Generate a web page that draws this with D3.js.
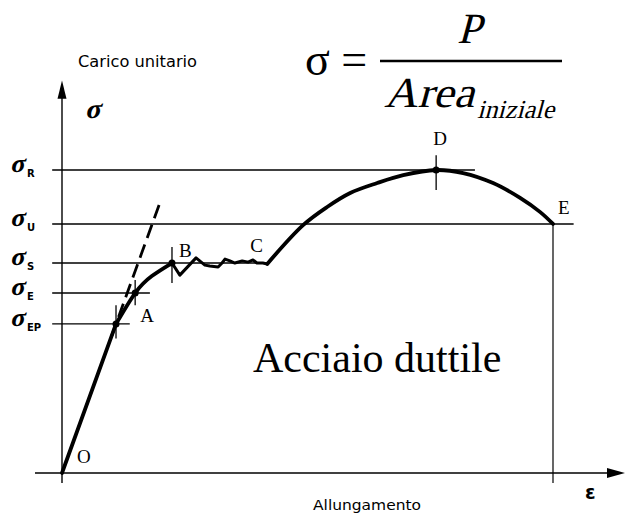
<!DOCTYPE html>
<html>
<head>
<meta charset="utf-8">
<script src="https://cdn.jsdelivr.net/npm/d3@7"></script>
<style>
  html, body { margin: 0; padding: 0; background: #fff; }
  svg { display: block; }
</style>
</head>
<body>
<svg id="chart" width="625" height="514"></svg>
<script>
// Stress-strain diagram of a ductile steel (units are relative: σR = 100, εE = 100)

// Characteristic stress levels
const levelNames  = ["R", "U", "S", "E", "EP"];
const levelStress = [100, 82.2, 69.3, 59.4, 49.2];
const levelStrainEnd = [84.1, 104.2, 41.8, 17.9, 13.8];

// Curve segments [strain, stress]
const elasticSeg   = [[0, 0], [11.0, 49.2]];
const hardeningSeg = [[11.0, 49.2], [14.9, 59.4], [18.3, 65.0], [22.4, 69.3]];
const yieldSeg = [
  [22.4, 69.3], [24.0, 65.3], [27.3, 71.0], [29.1, 68.6], [30.1, 68.3], [31.8, 68.0],
  [32.6, 69.3], [33.2, 70.6], [34.2, 70.0], [35.2, 69.3], [36.7, 70.0], [37.9, 69.6],
  [38.9, 70.3], [39.7, 69.3], [40.9, 69.3], [41.8, 69.0]
];
const strainHardSeg = [
  [41.8, 69.0], [49.1, 81.8], [54.0, 87.8], [58.7, 92.4], [64.2, 95.7],
  [69.5, 98.3], [76.2, 100], [81.7, 99.0], [87.8, 95.7], [93.3, 90.8], [97.4, 86.1],
  [100, 82.2]
];

// Elastic line prolongation (dashed)
const elasticSlope = 49.2 / 11.0;
const dashedStress = [45, 89.1];

// Named points: [strain, stress]
const pointNames  = ["O", "A", "B", "C", "D", "E"];
const pointStrain = [0, 14.9, 22.4, 41.8, 76.2, 100];
const pointStress = [0, 59.4, 69.3, 69.0, 100, 82.2];

// Marked points with a small vertical tick
const markStrain = [11.0, 14.9, 22.4, 76.2];
const markStress = [49.2, 59.4, 69.3, 100];
const markLow    = [44.4, 55.4, 62.7, 93.4];
const markHigh   = [55.4, 63.7, 74.6, 104.9];

const svg = d3.select("#chart");
const x = d3.scaleLinear().domain([0, 100]).range([62, 553]);
const y = d3.scaleLinear().domain([0, 100]).range([473, 170]);

const ink = "#000";
const serif = "Liberation Serif";
const line = d3.line().x(d => x(d[0])).y(d => y(d[1]));

// Slanted serif text (regular face sheared to an italic look)
function slanted(px, py, str, size, opts = {}) {
  const t = svg.append("text")
    .attr("transform", `translate(${px},${py}) skewX(${opts.skew ?? -15})`)
    .attr("font-family", serif).attr("font-size", size)
    .attr("font-weight", opts.bold ? "bold" : "normal")
    .text(str);
  if (opts.width) t.attr("textLength", opts.width).attr("lengthAdjust", "spacingAndGlyphs");
  return t;
}

// Horizontal reference lines for each stress level
svg.append("g").selectAll("line").data(levelStress).join("line")
  .attr("x1", x(-2)).attr("x2", (d, i) => x(levelStrainEnd[i]))
  .attr("y1", d => y(d)).attr("y2", d => y(d))
  .attr("stroke", ink).attr("stroke-width", 1.4);

// Level labels σ with subscript
levelStress.forEach((v, i) => {
  slanted(10, y(v) + 2, "σ", 26, { bold: true, skew: -12 });
  svg.append("text")
    .attr("x", 27).attr("y", y(v) + 7)
    .attr("font-family", "DejaVu Sans").attr("font-weight", "bold")
    .attr("font-size", 10).text(levelNames[i]);
});

// Axes
svg.append("line")
  .attr("x1", x(0)).attr("x2", x(0)).attr("y1", y(-3.3)).attr("y2", y(126))
  .attr("stroke", ink).attr("stroke-width", 1.4);
svg.append("path")
  .attr("d", `M${x(0)},${y(129.5)} L${x(0) - 4.5},${y(123.5)} L${x(0) + 4.5},${y(123.5)} Z`)
  .attr("fill", ink);
svg.append("line")
  .attr("x1", x(-5.5)).attr("x2", x(112)).attr("y1", y(0)).attr("y2", y(0))
  .attr("stroke", ink).attr("stroke-width", 1.6);
svg.append("path")
  .attr("d", `M${x(114.7)},${y(0)} L${x(111)},${y(0) - 5} L${x(111)},${y(0) + 5} Z`)
  .attr("fill", ink);

// Vertical line at rupture point E
svg.append("line")
  .attr("x1", x(100)).attr("x2", x(100)).attr("y1", y(82.2)).attr("y2", y(-3.3))
  .attr("stroke", ink).attr("stroke-width", 1.2);

// Dashed prolongation of the elastic line
svg.append("line")
  .attr("x1", x(dashedStress[0] / elasticSlope)).attr("y1", y(dashedStress[0]))
  .attr("x2", x(dashedStress[1] / elasticSlope)).attr("y2", y(dashedStress[1]))
  .attr("stroke", ink).attr("stroke-width", 2.8).attr("stroke-dasharray", "14,7");

// Stress-strain curve
const curve = svg.append("g").attr("fill", "none").attr("stroke", ink)
  .attr("stroke-width", 3.8).attr("stroke-linejoin", "round").attr("stroke-linecap", "round");
curve.append("path").attr("d", line.curve(d3.curveLinear)(elasticSeg));
curve.append("path").attr("d", line.curve(d3.curveNatural)(hardeningSeg));
curve.append("path").attr("d", line.curve(d3.curveLinear)(yieldSeg)).attr("stroke-width", 3);
curve.append("path").attr("d", line.curve(d3.curveCatmullRom.alpha(0.5))(strainHardSeg));

// Tick marks and dots at characteristic points
svg.append("g").selectAll("line").data(markStrain).join("line")
  .attr("x1", d => x(d)).attr("x2", d => x(d))
  .attr("y1", (d, i) => y(markLow[i])).attr("y2", (d, i) => y(markHigh[i]))
  .attr("stroke", ink).attr("stroke-width", 1.3);
svg.append("g").selectAll("circle").data(markStrain).join("circle")
  .attr("cx", d => x(d)).attr("cy", (d, i) => y(markStress[i])).attr("r", 3.5)
  .attr("fill", ink);

// Point letters
const letterDx = [15, 5, 7, -17, -3, 5];
const letterDy = [-10, 29, -6, -12, -25, -10];
svg.append("g").selectAll("text").data(pointNames).join("text")
  .attr("x", (d, i) => x(pointStrain[i]) + letterDx[i])
  .attr("y", (d, i) => y(pointStress[i]) + letterDy[i])
  .attr("font-family", serif).attr("font-size", 19).text(d => d);

// Axis titles
svg.append("text").attr("x", 78).attr("y", 67)
  .attr("font-family", "DejaVu Sans").attr("font-size", 16)
  .attr("textLength", 119).attr("lengthAdjust", "spacingAndGlyphs")
  .text("Carico unitario");
slanted(85, 118, "σ", 28, { bold: true, skew: -12 });
svg.append("text").attr("x", 313).attr("y", 510)
  .attr("font-family", "DejaVu Sans").attr("font-size", 14)
  .attr("textLength", 108).attr("lengthAdjust", "spacingAndGlyphs")
  .text("Allungamento");
svg.append("text").attr("x", 585).attr("y", 499)
  .attr("font-family", "DejaVu Sans").attr("font-weight", "bold")
  .attr("font-size", 19).text("ε");

// Engineering stress formula
svg.append("text").attr("x", 305).attr("y", 75)
  .attr("font-family", serif).attr("font-size", 46).text("σ =");
svg.append("line").attr("x1", 380).attr("x2", 562).attr("y1", 61).attr("y2", 61)
  .attr("stroke", ink).attr("stroke-width", 2.6);
slanted(457, 43, "P", 43);
slanted(384, 107, "Area", 43, { width: 90 });
slanted(477, 118, "iniziale", 26, { width: 77 });

// Material name
svg.append("text").attr("x", 253).attr("y", 372)
  .attr("font-family", serif).attr("font-size", 42).text("Acciaio duttile");
</script>
</body>
</html>
